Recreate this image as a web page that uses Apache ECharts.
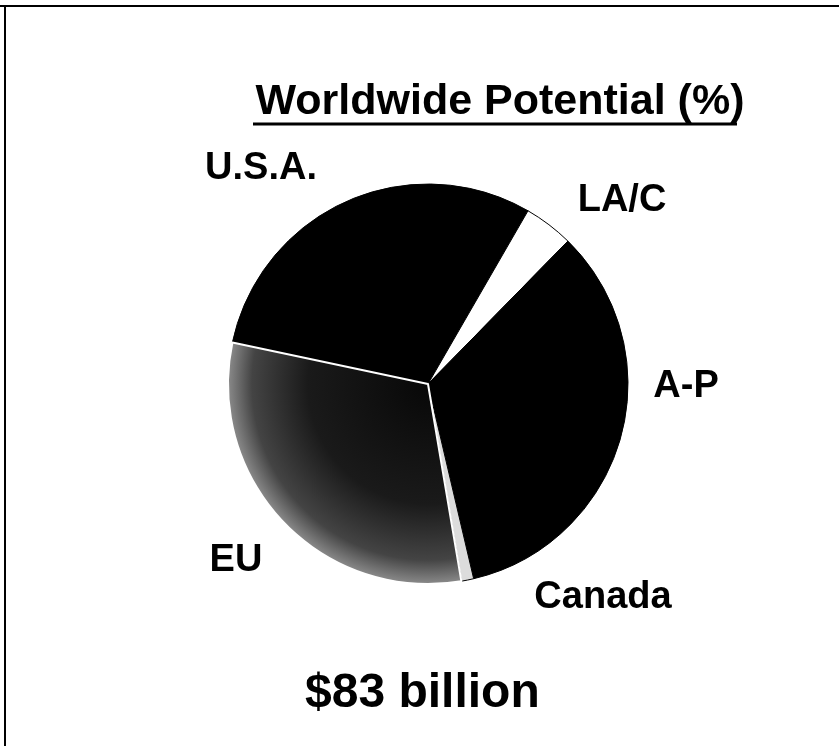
<!DOCTYPE html>
<html>
<head>
<meta charset="utf-8">
<title>Worldwide Potential (%)</title>
<script src="https://cdn.jsdelivr.net/npm/echarts@6/dist/echarts.min.js"></script>
<style>
  html, body { margin: 0; padding: 0; background: #fff; }
  #chart { width: 839px; height: 746px; }
</style>
</head>
<body>
<div id="chart"></div>
<script>
// Regional shares of the worldwide market, percent (clockwise from U.S.A.)
const regions = ['U.S.A.', 'LA/C', 'A-P', 'Canada', 'EU'];
const shares = [30, 4, 34, 1, 31];
const totalLabel = '$83 billion';
const titleText = 'Worldwide Potential (%)';

// Label anchor points (px) for each region name, placed around the pie
const labelAnchors = [
  [261, 169],
  [622, 201],
  [686, 387],
  [603, 598],
  [236, 561]
];

const FONT = '"Liberation Sans", Arial, Helvetica, sans-serif';

const sliceFills = [
  '#000000',
  '#ffffff',
  '#000000',
  '#dcdcdc',
  {
    type: 'radial', x: 428, y: 384, r: 200, global: true,
    colorStops: [
      { offset: 0, color: '#080808' },
      { offset: 0.6, color: '#1a1a1a' },
      { offset: 0.88, color: '#444444' },
      { offset: 1, color: '#8a8a8a' }
    ]
  }
];

const chart = echarts.init(document.getElementById('chart'), null, { renderer: 'canvas' });

chart.setOption({
  backgroundColor: '#ffffff',
  animation: false,
  title: {
    text: titleText,
    left: 495,
    top: 76,
    textAlign: 'center',
    textStyle: { fontFamily: FONT, fontWeight: 'bold', fontSize: 43, color: '#000' }
  },
  graphic: [
    // frame: top and left rules
    { type: 'line', shape: { x1: 0, y1: 6, x2: 839, y2: 6 }, style: { stroke: '#000', lineWidth: 2 } },
    { type: 'line', shape: { x1: 5, y1: 6, x2: 5, y2: 746 }, style: { stroke: '#000', lineWidth: 2 } },
    // title underline
    { type: 'line', shape: { x1: 253, y1: 124, x2: 737, y2: 124 }, style: { stroke: '#000', lineWidth: 3 } },
    {
      type: 'text', left: 305, top: 670,
      style: { text: totalLabel, font: 'bold 48px ' + FONT, fill: '#000' }
    }
  ],
  series: [{
    type: 'pie',
    center: [428, 384],
    radius: [0, 200],
    startAngle: 168,
    clockwise: true,
    avoidLabelOverlap: false,
    itemStyle: { borderColor: '#000', borderWidth: 1 },
    label: {
      show: true,
      position: 'outside',
      formatter: '{b}',
      fontFamily: FONT,
      fontWeight: 'bold',
      fontSize: 38,
      color: '#000'
    },
    labelLine: { show: false },
    labelLayout: function (params) {
      const p = labelAnchors[params.dataIndex];
      return { x: p[0], y: p[1], align: 'center', verticalAlign: 'middle' };
    },
    emphasis: { disabled: true },
    data: regions.map(function (name, i) {
      const item = { name: name, value: shares[i], itemStyle: { color: sliceFills[i] } };
      if (name === 'EU') {
        // light seam along the edge shared with U.S.A.
        item.itemStyle.borderColor = '#ffffff';
        item.itemStyle.borderWidth = 2;
      }
      return item;
    })
  }]
});
</script>
</body>
</html>
